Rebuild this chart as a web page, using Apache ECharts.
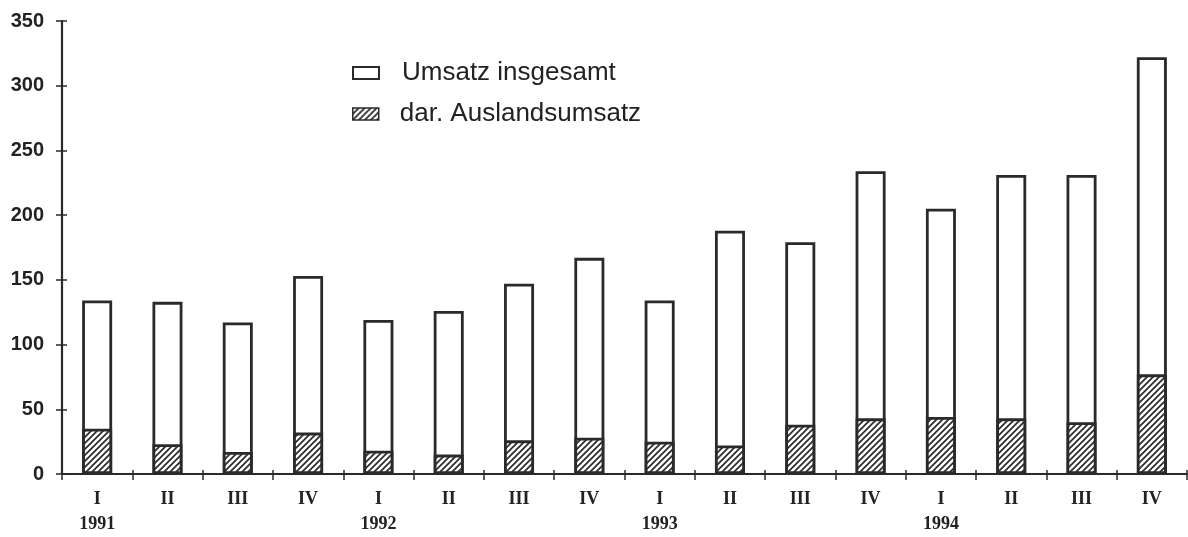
<!DOCTYPE html>
<html>
<head>
<meta charset="utf-8">
<script src="https://cdn.jsdelivr.net/npm/echarts@6/dist/echarts.min.js"></script>
<style>
html,body{margin:0;padding:0;background:#fff;}
#chart{width:1188px;height:537px;}
</style>
</head>
<body>
<div id="chart"></div>
<script>
// ---- data ----
const quarters = ['I','II','III','IV','I','II','III','IV','I','II','III','IV','I','II','III','IV'];
const years = ['1991','1992','1993','1994'];
const totalSales = [134, 133, 117, 153, 119, 126, 147, 167, 134, 188, 179, 234, 205, 231, 231, 322];
const foreignSales = [35, 23, 17, 32, 18, 15, 26, 28, 25, 22, 38, 43, 44, 43, 40, 77];
const seriesNames = ['Umsatz insgesamt', 'dar. Auslandsumsatz'];
const yMin = 0, yMax = 350, yStep = 50;

// ---- styling ----
const ink = '#2a2a2a';
function hatchPattern() {
  const p = 6;
  const c = document.createElement('canvas');
  c.width = p; c.height = p;
  const g = c.getContext('2d');
  g.fillStyle = '#fff';
  g.fillRect(0, 0, p, p);
  g.strokeStyle = ink;
  g.lineWidth = 1.7;
  g.beginPath();
  g.moveTo(0, p); g.lineTo(p, 0);
  g.moveTo(-1, 1); g.lineTo(1, -1);
  g.moveTo(p - 1, p + 1); g.lineTo(p + 1, p - 1);
  g.stroke();
  return c;
}
const hatch = { image: hatchPattern(), repeat: 'repeat' };

const categories = quarters.map((q, i) => q + '_' + i);

const legendText = { fontFamily: 'Liberation Sans', fontSize: 26, color: '#222' };

const chart = echarts.init(document.getElementById('chart'), null, { renderer: 'canvas' });
const option = {
  backgroundColor: '#fff',
  animation: false,
  grid: { left: 62, right: 1, top: 21, bottom: 63, containLabel: false },
  legend: [
    {
      data: [{ name: seriesNames[0], itemStyle: { color: '#fff', borderColor: ink, borderWidth: 2 } }],
      left: 347, top: 55, orient: 'vertical',
      itemWidth: 26, itemHeight: 12, icon: 'rect',
      formatter: n => '{g|}' + n,
      textStyle: Object.assign({}, legendText, { rich: { g: { width: 18 } } })
    },
    {
      data: [{ name: seriesNames[1], itemStyle: { color: hatch, borderColor: ink, borderWidth: 1.5 } }],
      left: 347, top: 96, orient: 'vertical',
      itemWidth: 26, itemHeight: 12, icon: 'rect',
      formatter: n => '{g|}' + n,
      textStyle: Object.assign({}, legendText, { rich: { g: { width: 16 } } })
    }
  ],
  xAxis: [
    {
      type: 'category', data: categories, boundaryGap: true,
      axisLine: { show: true, lineStyle: { color: ink, width: 2 } },
      axisTick: { show: true, inside: false, length: 6, lineStyle: { color: ink, width: 1.5 } },
      axisLabel: {
        margin: 13, interval: 0,
        formatter: (v, i) => {
          const q = quarters[i];
          if (i % 4 === 0) return '{q|' + q + '}\n{y|' + years[i / 4] + '}';
          return '{q|' + q + '}';
        },
        rich: {
          q: { fontFamily: 'Liberation Serif', fontWeight: 'bold', fontSize: 18, color: '#222', lineHeight: 25 },
          y: { fontFamily: 'Liberation Serif', fontWeight: 'bold', fontSize: 18, color: '#222', lineHeight: 25 }
        }
      },
      splitLine: { show: false }
    },
    {
      type: 'category', data: categories, boundaryGap: true, position: 'bottom',
      axisLine: { show: false },
      axisTick: { show: true, inside: true, length: 4, lineStyle: { color: ink, width: 1.5 } },
      axisLabel: { show: false },
      splitLine: { show: false }
    }
  ],
  yAxis: [
    {
      type: 'value', min: yMin, max: yMax, interval: yStep,
      axisLine: { show: true, lineStyle: { color: ink, width: 2.2 } },
      axisTick: { show: true, inside: false, length: 6, lineStyle: { color: ink, width: 1.5 } },
      axisLabel: { margin: 18, fontFamily: 'Liberation Sans', fontWeight: 'bold', fontSize: 20, color: '#222' },
      splitLine: { show: false }
    },
    {
      type: 'value', min: yMin, max: yMax, interval: yStep, position: 'left',
      axisLine: { show: false },
      axisTick: { show: true, inside: true, length: 5, lineStyle: { color: ink, width: 1.5 } },
      axisLabel: { show: false },
      splitLine: { show: false }
    }
  ],
  series: [
    {
      name: seriesNames[0], type: 'bar', data: totalSales,
      barWidth: 30, barGap: '-100%',
      itemStyle: { color: '#fff', borderColor: ink, borderWidth: 2.8 }
    },
    {
      name: seriesNames[1], type: 'bar', data: foreignSales,
      barWidth: 30, barGap: '-100%',
      itemStyle: { color: hatch, borderColor: ink, borderWidth: 2.8 }
    }
  ]
};
chart.setOption(option);
</script>
</body>
</html>
